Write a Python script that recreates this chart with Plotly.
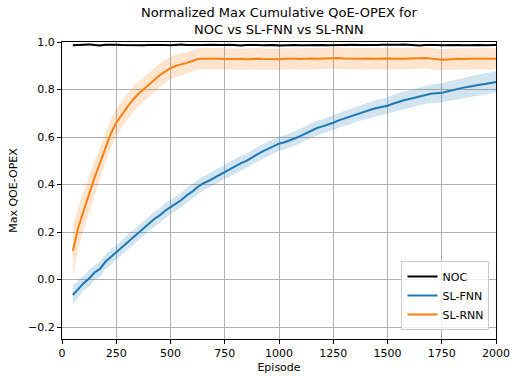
import plotly.graph_objects as go

episodes = list(range(50, 2001, 25))

noc_mean = [0.986, 0.987, 0.988, 0.990, 0.987, 0.985, 0.988, 0.989, 0.988, 0.987,
            0.986, 0.988, 0.987, 0.986, 0.987, 0.988, 0.989, 0.987, 0.986, 0.988,
            0.989, 0.987, 0.986, 0.985, 0.987, 0.988, 0.987, 0.986, 0.987, 0.988,
            0.986, 0.985, 0.987, 0.988, 0.987, 0.986, 0.988, 0.987, 0.985, 0.986,
            0.988, 0.987, 0.986, 0.987, 0.988, 0.989, 0.987, 0.986, 0.987, 0.988,
            0.986, 0.987, 0.988, 0.987, 0.986, 0.985, 0.987, 0.988, 0.987, 0.986,
            0.988, 0.989, 0.987, 0.986, 0.985, 0.987, 0.988, 0.987, 0.986, 0.987,
            0.988, 0.987, 0.986, 0.987, 0.988, 0.987, 0.986, 0.987, 0.987]
noc_std = [0.004] * 79

fnn_mean = [-0.065, -0.040, -0.015, 0.005, 0.030, 0.045, 0.075, 0.095, 0.115, 0.135,
            0.155, 0.175, 0.195, 0.215, 0.235, 0.255, 0.270, 0.290, 0.305, 0.320,
            0.335, 0.355, 0.370, 0.390, 0.405, 0.415, 0.428, 0.440, 0.453, 0.467,
            0.480, 0.490, 0.500, 0.515, 0.527, 0.540, 0.550, 0.562, 0.572, 0.578,
            0.585, 0.595, 0.605, 0.617, 0.628, 0.638, 0.645, 0.652, 0.660, 0.670,
            0.678, 0.685, 0.695, 0.703, 0.708, 0.716, 0.722, 0.726, 0.732, 0.740,
            0.748, 0.755, 0.760, 0.765, 0.772, 0.778, 0.782, 0.784, 0.786, 0.792,
            0.798, 0.803, 0.808, 0.812, 0.817, 0.820, 0.823, 0.828, 0.832]
fnn_std = [0.040, 0.035, 0.030, 0.035, 0.030, 0.033, 0.030, 0.035, 0.030, 0.032,
           0.030, 0.033, 0.030, 0.032, 0.030, 0.031, 0.030, 0.032, 0.030, 0.031,
           0.030, 0.032, 0.030, 0.031, 0.030, 0.030, 0.031, 0.030, 0.030, 0.031,
           0.030, 0.031, 0.030, 0.030, 0.031, 0.030, 0.030, 0.031, 0.030, 0.030,
           0.031, 0.030, 0.031, 0.030, 0.030, 0.031, 0.030, 0.031, 0.030, 0.031,
           0.032, 0.033, 0.032, 0.033, 0.034, 0.034, 0.035, 0.034, 0.035, 0.036,
           0.036, 0.037, 0.036, 0.037, 0.038, 0.038, 0.039, 0.040, 0.040, 0.041,
           0.041, 0.042, 0.042, 0.043, 0.043, 0.044, 0.044, 0.045, 0.045]

rnn_mean = [0.120, 0.220, 0.290, 0.365, 0.430, 0.490, 0.555, 0.615, 0.660, 0.695,
            0.725, 0.755, 0.780, 0.800, 0.820, 0.840, 0.860, 0.875, 0.890, 0.900,
            0.905, 0.912, 0.920, 0.928, 0.930, 0.931, 0.929, 0.930, 0.928, 0.929,
            0.930, 0.928, 0.927, 0.929, 0.930, 0.928, 0.927, 0.926, 0.927, 0.929,
            0.930, 0.929, 0.928, 0.930, 0.931, 0.929, 0.930, 0.932, 0.934, 0.933,
            0.931, 0.930, 0.929, 0.930, 0.931, 0.929, 0.930, 0.931, 0.930, 0.929,
            0.928, 0.930, 0.931, 0.932, 0.931, 0.933, 0.930, 0.926, 0.925, 0.926,
            0.928, 0.929, 0.928, 0.927, 0.929, 0.930, 0.929, 0.928, 0.929]
rnn_std = [0.110, 0.090, 0.080, 0.075, 0.070, 0.065, 0.060, 0.060, 0.058, 0.056,
           0.055, 0.054, 0.053, 0.052, 0.051, 0.050, 0.050, 0.049, 0.048, 0.047,
           0.046, 0.046, 0.045, 0.045, 0.045, 0.045, 0.045, 0.045, 0.045, 0.045,
           0.045, 0.045, 0.045, 0.045, 0.045, 0.045, 0.045, 0.045, 0.045, 0.045,
           0.045, 0.045, 0.045, 0.045, 0.045, 0.045, 0.045, 0.045, 0.045, 0.045,
           0.045, 0.045, 0.045, 0.045, 0.045, 0.045, 0.045, 0.045, 0.045, 0.045,
           0.045, 0.045, 0.045, 0.045, 0.045, 0.045, 0.045, 0.045, 0.045, 0.045,
           0.045, 0.045, 0.045, 0.045, 0.045, 0.045, 0.045, 0.045, 0.045]

x_ticks = [0, 250, 500, 750, 1000, 1250, 1500, 1750, 2000]
y_ticks = [-0.2, 0.0, 0.2, 0.4, 0.6, 0.8, 1.0]
y_tick_labels = ["\u22120.2", "0.0", "0.2", "0.4", "0.6", "0.8", "1.0"]

series = [
    ("NOC", noc_mean, noc_std, "#000000", "rgba(0,0,0,0.2)"),
    ("SL-FNN", fnn_mean, fnn_std, "#1f77b4", "rgba(31,119,180,0.2)"),
    ("SL-RNN", rnn_mean, rnn_std, "#ff7f0e", "rgba(255,127,14,0.2)"),
]

FONT = "DejaVu Sans"

fig = go.Figure()
for name, m, s, col, fillcol in series:
    upper = [a + b for a, b in zip(m, s)]
    lower = [a - b for a, b in zip(m, s)]
    fig.add_trace(go.Scatter(x=episodes + episodes[::-1], y=upper + lower[::-1],
                             fill="toself", fillcolor=fillcol, line=dict(width=0),
                             mode="lines", showlegend=False, hoverinfo="skip"))
for name, m, s, col, fillcol in series:
    fig.add_trace(go.Scatter(x=episodes, y=m, mode="lines", name=name,
                             line=dict(color=col, width=2)))

axis_common = dict(showline=True, linecolor="black", linewidth=1, mirror=True,
                   ticks="outside", ticklen=4, tickcolor="black", automargin=False,
                   showgrid=True, gridcolor="#b0b0b0", gridwidth=1, zeroline=False,
                   tickfont=dict(family=FONT, size=11, color="black"))

fig.update_xaxes(range=[0, 2000], tickvals=x_ticks,
                 title=dict(text="Episode", font=dict(family=FONT, size=11, color="black"), standoff=4),
                 **axis_common)
fig.update_yaxes(range=[-0.25, 1.0], tickvals=y_ticks, ticktext=y_tick_labels,
                 title=dict(text="Max QOE-OPEX", font=dict(family=FONT, size=11, color="black"), standoff=8),
                 **axis_common)

fig.add_annotation(text="Normalized Max Cumulative QoE-OPEX for<br>NOC vs SL-FNN vs SL-RNN",
                   x=0.5, xref="paper", xanchor="center", y=1.0, yref="paper", yanchor="bottom",
                   yshift=3, showarrow=False, align="center",
                   font=dict(family=FONT, size=13, color="black"))

fig.update_layout(
    width=510, height=376,
    margin=dict(l=62, r=14, t=42, b=37),
    paper_bgcolor="white", plot_bgcolor="white",
    legend=dict(x=0.985, xanchor="right", y=0.03, yanchor="bottom",
                bgcolor="rgba(255,255,255,0.8)", bordercolor="#cccccc", borderwidth=1,
                font=dict(family=FONT, size=11, color="black"),
                tracegroupgap=0, itemwidth=30),
    showlegend=True,
)

fig.write_html("out.html")
